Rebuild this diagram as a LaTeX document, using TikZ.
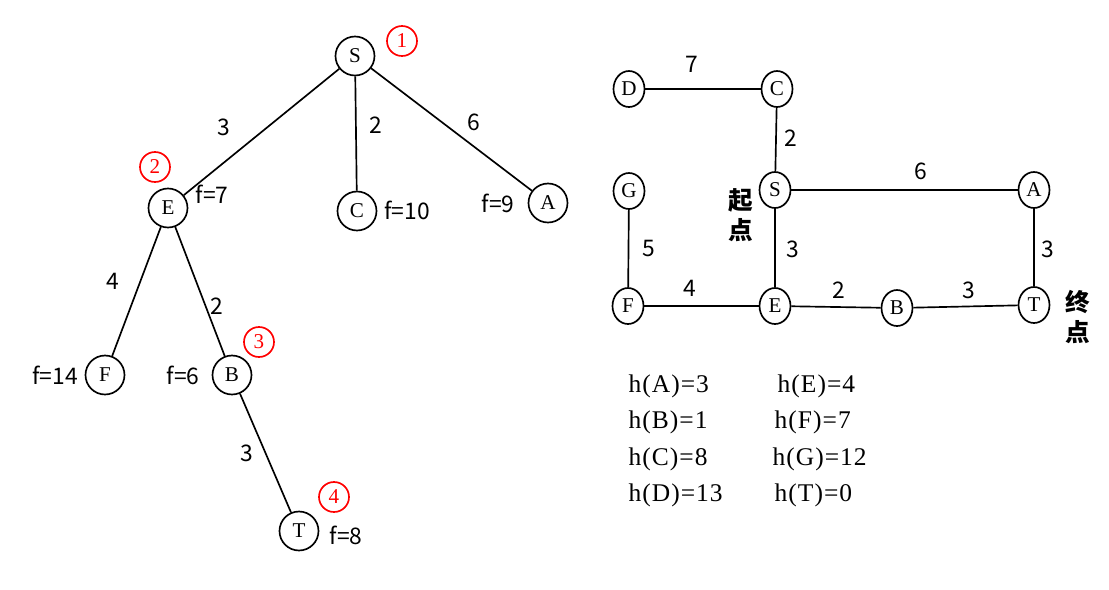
\documentclass[tikz,border=0pt]{standalone}
\usepackage{fontspec}
\setmainfont{Liberation Serif}
\newfontfamily\numfont{Noto Sans CJK SC}
\newfontfamily\hfont[LetterSpace=4]{Liberation Serif}
\usetikzlibrary{shapes.geometric}

\begin{document}
\begin{tikzpicture}[x=0.02cm, y=-0.02cm, line width=0.95pt,
	tnode/.style={draw, circle, minimum size=0.78cm, inner sep=0pt, font=\fontsize{12}{12}\selectfont},
	gnode/.style={draw, ellipse, minimum width=0.62cm, minimum height=0.72cm, inner sep=0pt, font=\fontsize{12}{12}\selectfont},
	order/.style={draw=red, text=red, circle, minimum size=0.6cm, inner sep=0pt, font=\fontsize{12}{12}\selectfont},
	wlabel/.style={font=\numfont\fontsize{13}{13}\selectfont},
	hlabel/.style={anchor=west, font=\hfont\fontsize{14.5}{14.5}\selectfont}]
	\useasboundingbox (0,0) rectangle (1109,589);
	% search tree
	\node[tnode] (tS) at (355,56) {S};
	\node[tnode] (tE) at (168,208) {E};
	\node[tnode] (tC) at (357,211) {C};
	\node[tnode] (tA) at (548,203) {A};
	\node[tnode] (tF) at (105,375) {F};
	\node[tnode] (tB) at (232,375) {B};
	\node[tnode] (tT) at (299,531) {T};
	\draw (tS) -- (tE);
	\draw (tS) -- (tC);
	\draw (tS) -- (tA);
	\draw (tE) -- (tF);
	\draw (tE) -- (tB);
	\draw (tB) -- (tT);
	\node[order] (o1) at (402,41) {1};
	\node[order] (o2) at (155,167) {2};
	\node[order] (o3) at (259,342) {3};
	\node[order] (o4) at (334,497) {4};
	\node[wlabel] (wSE) at (224,127) {3};
	\node[wlabel] (wSC) at (376,125) {2};
	\node[wlabel] (wSA) at (474,122) {6};
	\node[wlabel] (wEF) at (113,281) {4};
	\node[wlabel] (wEB) at (217,306) {2};
	\node[wlabel] (wBT) at (247,453) {3};
	\node[wlabel] (fE) at (212,194) {f=7};
	\node[wlabel] (fC) at (407,210) {f=10};
	\node[wlabel] (fA) at (498,203) {f=9};
	\node[wlabel] (fF) at (55,375) {f=14};
	\node[wlabel] (fB) at (183,375) {f=6};
	\node[wlabel] (fT) at (346,535) {f=8};
	% graph
	\node[gnode] (D) at (629,89) {D};
	\node[gnode] (C) at (777,89) {C};
	\node[gnode] (G) at (629,191) {G};
	\node[gnode] (S) at (775,190) {S};
	\node[gnode] (A) at (1034,190) {A};
	\node[gnode] (F) at (628,306) {F};
	\node[gnode] (E) at (775,306) {E};
	\node[gnode] (B) at (897,308) {B};
	\node[gnode] (T) at (1034,305) {T};
	\draw (D) -- (C);
	\draw (C) -- (S);
	\draw (S) -- (A);
	\draw (A) -- (T);
	\draw (G) -- (F);
	\draw (F) -- (E);
	\draw (S) -- (E);
	\draw (E) -- (B);
	\draw (B) -- (T);
	\node[wlabel] (wDC) at (692,64) {7};
	\node[wlabel] (wCS) at (791,138) {2};
	\node[wlabel] (wSA2) at (921,171) {6};
	\node[wlabel] (wGF) at (649,248) {5};
	\node[wlabel] (wSE2) at (793,249) {3};
	\node[wlabel] (wAT) at (1048,249) {3};
	\node[wlabel] (wFE) at (690,288) {4};
	\node[wlabel] (wEB2) at (839,290) {2};
	\node[wlabel] (wBT2) at (969,290) {3};
	\node[font=\numfont\bfseries\fontsize{14}{17}\selectfont, align=center] (start) at (741,215) {起\\点};
	\node[font=\numfont\bfseries\fontsize{14}{17}\selectfont, align=center] (goal) at (1078,317) {终\\点};
	% heuristic values
	\node[hlabel] (hA) at (622,386) {h(A)=3};
	\node[hlabel] (hB) at (622,422) {h(B)=1};
	\node[hlabel] (hC) at (622,459) {h(C)=8};
	\node[hlabel] (hD) at (622,495) {h(D)=13};
	\node[hlabel] (hE) at (771,386) {h(E)=4};
	\node[hlabel] (hF) at (768,422) {h(F)=7};
	\node[hlabel] (hG) at (766,459) {h(G)=12};
	\node[hlabel] (hT) at (768,495) {h(T)=0};
\end{tikzpicture}
\end{document}
